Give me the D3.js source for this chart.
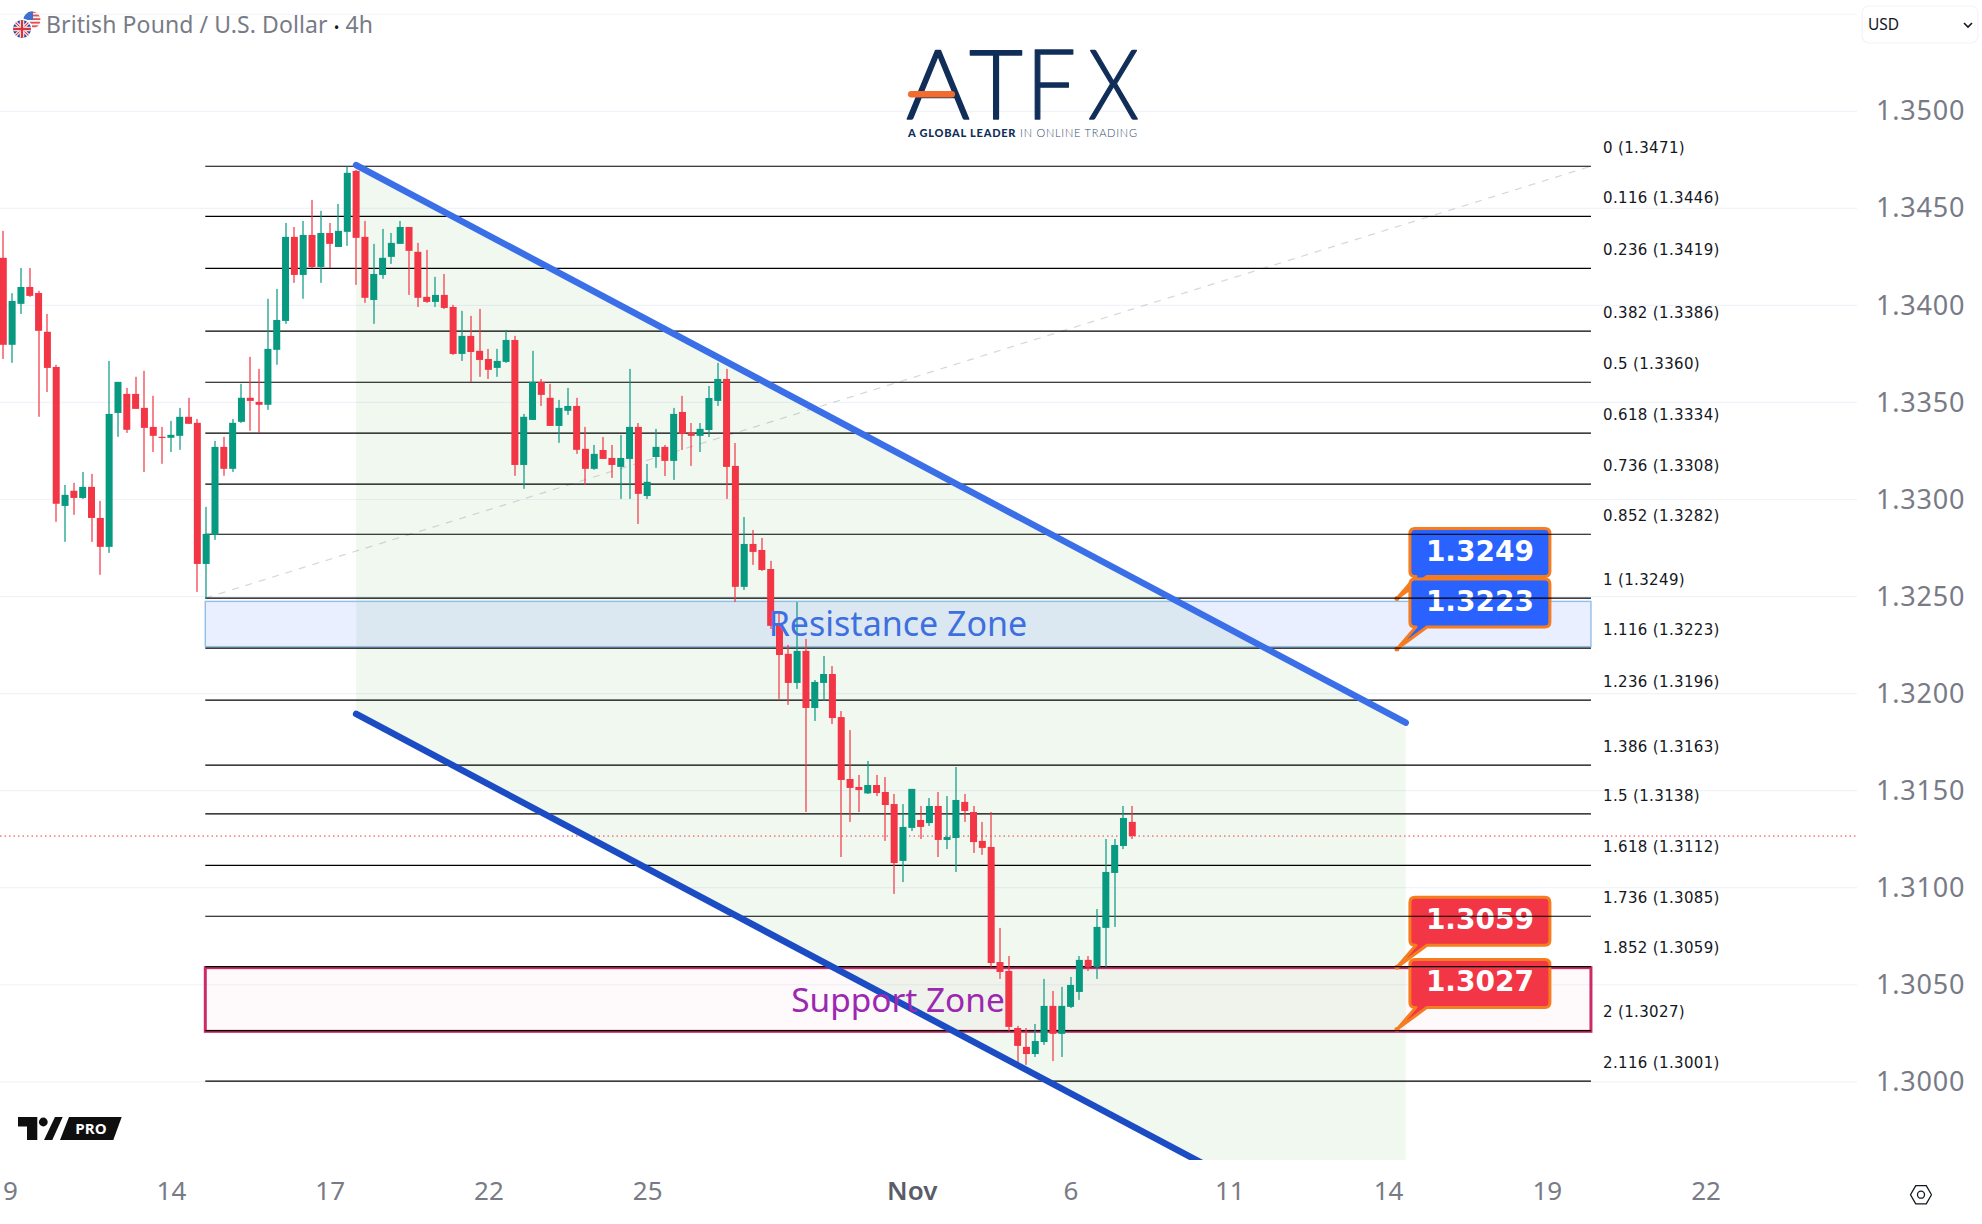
<!DOCTYPE html>
<html><head><meta charset="utf-8"><style>html,body{margin:0;padding:0;background:#fff;overflow:hidden}svg{display:block}</style>
<script src="https://cdn.jsdelivr.net/npm/d3@7/dist/d3.min.js"></script></head><body><svg id="c" width="1982" height="1224"></svg>
<script>
const opens=[1.34245,1.33797,1.34008,1.34095,1.34064,1.33864,1.33683,1.32967,1.33045,1.33008,1.33065,1.32905,1.32756,1.33446,1.33544,1.33544,1.33472,1.33374,1.33323,1.33318,1.33328,1.33426,1.33395,1.32668,1.32818,1.33271,1.33158,1.33400,1.33524,1.33503,1.33488,1.33771,1.33920,1.34353,1.34157,1.34363,1.34198,1.34373,1.34301,1.34379,1.34693,1.34353,1.34028,1.34157,1.34250,1.34317,1.34404,1.34276,1.34044,1.34018,1.34054,1.33992,1.33750,1.33843,1.33766,1.33724,1.33678,1.33709,1.33822,1.33178,1.33410,1.33606,1.33524,1.33379,1.33457,1.33482,1.33261,1.33158,1.33255,1.33214,1.33168,1.33209,1.33374,1.33018,1.33219,1.33271,1.33199,1.33451,1.33343,1.33328,1.33358,1.33508,1.33621,1.33173,1.32550,1.32771,1.32740,1.32642,1.32354,1.32205,1.32055,1.32220,1.31926,1.32055,1.32101,1.31879,1.31560,1.31519,1.31486,1.31529,1.31493,1.31431,1.31138,1.31308,1.31349,1.31333,1.31421,1.31246,1.31256,1.31442,1.31390,1.31241,1.31210,1.30617,1.30571,1.30277,1.30180,1.30143,1.30205,1.30391,1.30247,1.30386,1.30463,1.30628,1.30592,1.30793,1.31076,1.31215,1.31339];
const highs=[1.34384,1.34063,1.34193,1.34193,1.34075,1.33956,1.33694,1.33075,1.33086,1.33142,1.33132,1.32993,1.33714,1.33606,1.33575,1.33632,1.33663,1.33534,1.33374,1.33405,1.33472,1.33524,1.33415,1.32962,1.33302,1.33323,1.33415,1.33596,1.33735,1.33673,1.34034,1.34085,1.34425,1.34404,1.34435,1.34543,1.34487,1.34425,1.34523,1.34715,1.34698,1.34435,1.34317,1.34394,1.34373,1.34435,1.34404,1.34322,1.34286,1.34147,1.34162,1.34003,1.33972,1.33946,1.33982,1.33776,1.33776,1.33874,1.33843,1.33441,1.33766,1.33621,1.33596,1.33513,1.33575,1.33524,1.33374,1.33281,1.33322,1.33281,1.33333,1.33673,1.33394,1.33183,1.33364,1.33281,1.33472,1.33534,1.33394,1.33394,1.33585,1.33704,1.33673,1.33291,1.32910,1.32843,1.32802,1.32684,1.32411,1.32251,1.32472,1.32282,1.32070,1.32194,1.32142,1.31910,1.31812,1.31581,1.31653,1.31581,1.31570,1.31483,1.31431,1.31509,1.31421,1.31462,1.31493,1.31472,1.31622,1.31483,1.31421,1.31339,1.31390,1.30793,1.30648,1.30288,1.30277,1.30298,1.30530,1.30468,1.30489,1.30540,1.30648,1.30648,1.30890,1.31251,1.31251,1.31421,1.31421];
const lows=[1.33724,1.33704,1.33956,1.34044,1.33426,1.33554,1.32885,1.32782,1.32921,1.33003,1.32782,1.32612,1.32725,1.33323,1.33343,1.33467,1.33142,1.33245,1.33184,1.33245,1.33256,1.33390,1.32524,1.32488,1.32792,1.33122,1.33142,1.33395,1.33354,1.33343,1.33462,1.33694,1.33905,1.34116,1.34034,1.34193,1.34116,1.34193,1.34301,1.34307,1.34106,1.34013,1.33905,1.34137,1.34214,1.34317,1.34054,1.33992,1.34013,1.33992,1.33982,1.33745,1.33714,1.33606,1.33632,1.33621,1.33632,1.33704,1.33122,1.33055,1.33410,1.33482,1.33379,1.33292,1.33436,1.33235,1.33075,1.33153,1.33209,1.33111,1.33003,1.33003,1.32874,1.33003,1.33163,1.33121,1.33101,1.33255,1.33173,1.33245,1.33322,1.33482,1.33003,1.32472,1.32534,1.32663,1.32632,1.32333,1.31973,1.31942,1.32024,1.31390,1.31859,1.31962,1.31843,1.31158,1.31339,1.31390,1.31483,1.31472,1.31241,1.30968,1.31029,1.31292,1.31251,1.31318,1.31158,1.31199,1.31081,1.31339,1.31179,1.31169,1.30592,1.30530,1.30262,1.30087,1.30087,1.30128,1.30190,1.30107,1.30128,1.30380,1.30422,1.30571,1.30530,1.30592,1.30798,1.31199,1.31251];
const closes=[1.33797,1.34023,1.34095,1.34049,1.33869,1.33678,1.32978,1.33024,1.33008,1.33065,1.32905,1.32756,1.33441,1.33606,1.33359,1.33467,1.33369,1.33328,1.33318,1.33333,1.33426,1.33390,1.32668,1.32823,1.33271,1.33158,1.33395,1.33524,1.33508,1.33488,1.33776,1.33925,1.34353,1.34157,1.34363,1.34198,1.34373,1.34317,1.34384,1.34683,1.34348,1.34039,1.34162,1.34245,1.34322,1.34404,1.34281,1.34039,1.34018,1.34054,1.33987,1.33750,1.33843,1.33760,1.33719,1.33668,1.33714,1.33822,1.33178,1.33426,1.33606,1.33539,1.33379,1.33472,1.33482,1.33256,1.33158,1.33235,1.33209,1.33178,1.33214,1.33374,1.33029,1.33091,1.33271,1.33199,1.33441,1.33338,1.33328,1.33364,1.33523,1.33621,1.33168,1.32550,1.32771,1.32730,1.32637,1.32349,1.32199,1.32055,1.32220,1.31926,1.32060,1.32101,1.31874,1.31555,1.31514,1.31503,1.31529,1.31488,1.31426,1.31127,1.31313,1.31509,1.31313,1.31421,1.31246,1.31261,1.31452,1.31395,1.31235,1.31205,1.30612,1.30566,1.30283,1.30185,1.30143,1.30210,1.30391,1.30247,1.30391,1.30499,1.30628,1.30592,1.30798,1.31081,1.31220,1.31359,1.31266];

const fibLevels=["0","0.116","0.236","0.382","0.5","0.618","0.736","0.852","1","1.116","1.236","1.386","1.5","1.618","1.736","1.852","2","2.116"];
const fibLabelPrices=["1.3471","1.3446","1.3419","1.3386","1.3360","1.3334","1.3308","1.3282","1.3249","1.3223","1.3196","1.3163","1.3138","1.3112","1.3085","1.3059","1.3027","1.3001"];
const fibPrices=[1.34717,1.34459,1.34191,1.33867,1.33604,1.33342,1.33079,1.32821,1.32492,1.32234,1.31966,1.31631,1.31380,1.31115,1.30853,1.30593,1.30264,1.30003];
const fibStartIndex=22.9, fibEndIndex=180;
const priceTicks=[1.30,1.305,1.31,1.315,1.32,1.325,1.33,1.335,1.34,1.345,1.35];
const gridPrices=[...priceTicks,1.355];
const dateTickIndex=[0.75,19,37,55,73,103,121,139,157,175,193];
const dateTickLabels=["9","14","17","22","25","Nov","6","11","14","19","22"];
const upperChannel=[[40,1.34723],[159,1.31850]];
const lowerChannel=[[40,1.31895],[159,1.29024]];
const resistanceZone=[1.32475,1.32242];
const supportZone=[1.30588,1.30260];
const calloutPrices=[1.3249,1.3223,1.3059,1.3027];
const calloutLabels=["1.3249","1.3223","1.3059","1.3027"];
const calloutColors=["#2962ff","#2962ff","#f23645","#f23645"];
const calloutIndex=158;
const lastPrice=closes[closes.length-1];

const svg=d3.select("#c");
const x=d3.scaleLinear().domain([0,128]).range([3.3,1132.3]);
const y=d3.scaleLinear().domain([1.30,1.35]).range([1081.8,111.3]);
const plotW=1857, plotH=1160;
svg.append("defs").append("clipPath").attr("id","plot").append("rect").attr("width",plotW).attr("height",plotH);
const plot=svg.append("g").attr("clip-path","url(#plot)");

plot.append("g").selectAll("line").data(gridPrices).join("line")
 .attr("x1",0).attr("x2",plotW).attr("y1",d=>y(d)).attr("y2",d=>y(d)).attr("stroke","#f0f3fa").attr("stroke-width",1.2);

const chanPts=[...upperChannel,...lowerChannel.slice().reverse()];
plot.append("path").attr("d",d3.line().x(d=>x(d[0])).y(d=>y(d[1]))(chanPts)+"Z").attr("fill","#4caf50").attr("fill-opacity",0.085);

const zx0=x(fibStartIndex), zx1=x(fibEndIndex);
plot.append("rect").attr("x",zx0).attr("width",zx1-zx0).attr("y",y(resistanceZone[0])).attr("height",y(resistanceZone[1])-y(resistanceZone[0]))
 .attr("fill","#2962ff").attr("fill-opacity",0.1).attr("stroke","#90bfe8").attr("stroke-width",1.4);
plot.append("rect").attr("x",zx0).attr("width",zx1-zx0).attr("y",y(supportZone[0])).attr("height",y(supportZone[1])-y(supportZone[0]))
 .attr("fill","#e91e63").attr("fill-opacity",0.025).attr("stroke","#cb2a66").attr("stroke-width",3);

const callouts=plot.append("g").selectAll("g").data(calloutPrices).join("g");
callouts.append("path").attr("d",(d,i)=>{
  const tx=x(calloutIndex), ty=y(d), l=tx+13, r=tx+153, t=ty-70, b=ty-22, rd=5;
  return `M${l+rd},${t}H${r-rd}Q${r},${t} ${r},${t+rd}V${b-rd}Q${r},${b} ${r-rd},${b}H${tx+30}L${tx},${ty}L${l+6},${b}H${l+rd}Q${l},${b} ${l},${b-rd}V${t+rd}Q${l},${t} ${l+rd},${t}Z`;
}).attr("fill",(d,i)=>calloutColors[i]).attr("stroke","#f57c1f").attr("stroke-width",3).attr("stroke-linejoin","round");
callouts.append("circle").attr("cx",x(calloutIndex)).attr("cy",d=>y(d)).attr("r",2.5).attr("fill","#f57c1f");
callouts.append("text").attr("x",x(calloutIndex)+83).attr("y",d=>y(d)-48).attr("dy","0.36em").attr("text-anchor","middle")
 .attr("font-family","DejaVu Sans").attr("font-weight","bold").attr("font-size",28).attr("fill","#fff").text((d,i)=>calloutLabels[i]);

plot.append("line").attr("x1",x(fibStartIndex)).attr("x2",x(fibEndIndex)).attr("y1",y(fibPrices[8])).attr("y2",y(fibPrices[0]))
 .attr("stroke","#787b86").attr("stroke-opacity",0.3).attr("stroke-width",1.2).attr("stroke-dasharray","7 7");
plot.append("g").selectAll("line").data(fibPrices).join("line").attr("x1",zx0).attr("x2",zx1)
 .attr("y1",d=>y(d)).attr("y2",d=>y(d)).attr("stroke","#000").attr("stroke-width",1.2);
svg.append("g").selectAll("text").data(fibLevels).join("text").attr("x",1603).attr("y",(d,i)=>y(fibPrices[i])-18.6).attr("dy","0.36em")
 .attr("font-family","DejaVu Sans").attr("font-size",15).attr("letter-spacing",0.35).attr("fill","#131722").text((d,i)=>`${d} (${fibLabelPrices[i]})`);

plot.append("line").attr("x1",0).attr("x2",plotW).attr("y1",y(lastPrice)).attr("y2",y(lastPrice)).attr("stroke","#f23645").attr("stroke-width",1).attr("stroke-dasharray","1.5 3");

const cand=plot.append("g").selectAll("g").data(opens).join("g").attr("fill",(d,i)=>closes[i]>=d?"#089981":"#f23645");
cand.append("rect").attr("x",(d,i)=>Math.round(x(i))-0.6).attr("width",1.2).attr("y",(d,i)=>y(highs[i])).attr("height",(d,i)=>y(lows[i])-y(highs[i]));
cand.append("rect").attr("x",(d,i)=>x(i)-3.5).attr("width",7).attr("y",(d,i)=>y(Math.max(d,closes[i]))).attr("height",(d,i)=>Math.max(1.2,Math.abs(y(d)-y(closes[i]))));

const tl=d3.line().x(d=>x(d[0])).y(d=>y(d[1]));
plot.append("path").attr("d",tl(upperChannel)).attr("stroke","#3a6fe8").attr("stroke-width",6.5).attr("stroke-linecap","round").attr("fill","none");
plot.append("path").attr("d",tl(lowerChannel)).attr("stroke","#1c4cc4").attr("stroke-width",6.5).attr("stroke-linecap","round").attr("fill","none");

plot.append("text").attr("x",898).attr("y",y(resistanceZone[1])-23).attr("dy","0.36em").attr("text-anchor","middle").attr("font-family","Noto Sans").attr("font-size",34).attr("fill","#3d6fe0").text("Resistance Zone");
plot.append("text").attr("x",898).attr("y",1000).attr("dy","0.36em").attr("text-anchor","middle").attr("font-family","Noto Sans").attr("font-size",33.4).attr("fill","#9c27b0").text("Support Zone");

const ya=svg.append("g").attr("transform","translate(1876,0)").call(d3.axisRight(y).tickValues(priceTicks).tickSize(0).tickPadding(0).tickFormat(d3.format(".4f")));
ya.select(".domain").remove();
ya.selectAll("text").attr("font-family","Noto Sans").attr("font-size",27).attr("letter-spacing",0.8).attr("fill","#787b86");
const xa=svg.append("g").attr("transform","translate(0,1182)").call(d3.axisBottom(x).tickValues(dateTickIndex).tickSize(0).tickPadding(0).tickFormat((d,i)=>dateTickLabels[i]));
xa.select(".domain").remove();
xa.selectAll("text").attr("font-family","Noto Sans").attr("font-size",26).attr("fill",(d,i)=>dateTickLabels[i]==="Nov"?"#5a5d68":"#787b86").attr("font-weight",(d,i)=>dateTickLabels[i]==="Nov"?600:400);

const fl=svg.append("g");
fl.append("clipPath").attr("id","us").append("circle").attr("cx",32).attr("cy",20).attr("r",8.5);
fl.append("clipPath").attr("id","uk").append("circle").attr("cx",22).attr("cy",29).attr("r",9);
const us=fl.append("g").attr("clip-path","url(#us)");
us.append("rect").attr("x",23).attr("y",11).attr("width",18).attr("height",18).attr("fill","#f4f4f4");
d3.range(0,5).forEach(k=>us.append("rect").attr("x",23).attr("y",11+k*3.6).attr("width",18).attr("height",1.8).attr("fill","#e2504f"));
us.append("rect").attr("x",23).attr("y",11).attr("width",10).attr("height",9).attr("fill","#3f6fd0");
fl.append("circle").attr("cx",22).attr("cy",29).attr("r",10.5).attr("fill","#fff");
const uk=fl.append("g").attr("clip-path","url(#uk)");
uk.append("rect").attr("x",12).attr("y",19).attr("width",20).attr("height",20).attr("fill","#2b4a9b");
uk.append("path").attr("d","M13,20L31,38M31,20L13,38").attr("stroke","#fff").attr("stroke-width",3.2);
uk.append("path").attr("d","M13,20L31,38M31,20L13,38").attr("stroke","#d8333f").attr("stroke-width",1.1);
uk.append("path").attr("d","M22,19V39M12,29H32").attr("stroke","#fff").attr("stroke-width",4.5);
uk.append("path").attr("d","M22,19V39M12,29H32").attr("stroke","#d8333f").attr("stroke-width",2.4);
const ttl=svg.append("text").attr("x",46).attr("y",33).attr("font-family","Noto Sans").attr("font-size",23).attr("fill","#787b86").attr("textLength",327);
ttl.append("tspan").text("British Pound / U.S. Dollar ");
ttl.append("tspan").attr("fill","#131722").attr("font-size",15).text("•");
ttl.append("tspan").text(" 4h");

svg.append("rect").attr("x",1862).attr("y",6).attr("width",116).attr("height",37).attr("rx",7).attr("fill","#fff").attr("stroke","#f0f3fa").attr("stroke-width",1.2);
svg.append("text").attr("x",1868).attr("y",30).attr("font-family","Noto Sans").attr("font-size",15.5).attr("fill","#131722").text("USD");
svg.append("path").attr("d","M1964,23l4,4l4,-4").attr("stroke","#131722").attr("stroke-width",1.6).attr("fill","none");

const navy="#102e58";
const logo=svg.append("g").attr("font-family","Lato").attr("font-weight",300).attr("font-size",97).attr("fill",navy).attr("stroke",navy).attr("stroke-width",1.4).attr("stroke-linejoin","round");
[["A",906,64],["T",969,54],["F",1026,50],["X",1088,51]].forEach(([t,xx,w])=>logo.append("text").attr("x",xx).attr("y",119).attr("textLength",w).attr("lengthAdjust","spacingAndGlyphs").text(t));
svg.append("rect").attr("x",908).attr("y",91).attr("width",47).attr("height",6.5).attr("rx",3.2).attr("fill","#f26b2f");
const tag=svg.append("text").attr("x",908).attr("y",137).attr("font-family","Lato").attr("font-size",11).attr("fill",navy).attr("textLength",229);
tag.append("tspan").attr("font-weight",900).text("A GLOBAL LEADER");
tag.append("tspan").attr("font-weight",300).attr("fill","#33486b").text(" IN ONLINE TRADING");

const tv=svg.append("g").attr("fill","#0f0f0f");
tv.append("path").attr("d","M18,1117H37.3V1140H27V1126.4H18Z");
tv.append("circle").attr("cx",43.3).attr("cy",1122).attr("r",4.4);
tv.append("path").attr("d","M55,1117H62.7L52.3,1140H44Z");
tv.append("path").attr("d","M69,1117H121.7L113.3,1140H60Z");
svg.append("text").attr("x",91).attr("y",1134).attr("text-anchor","middle").attr("font-family","Open Sans").attr("font-weight",700).attr("font-size",15).attr("fill","#fff").text("PRO");

const cx=1921,cy=1194.7;
svg.append("path").attr("d",d3.line()(d3.range(7).map(k=>[cx+10.5*Math.cos(k*Math.PI/3),cy+10.5*Math.sin(k*Math.PI/3)]))).attr("fill","none").attr("stroke","#131722").attr("stroke-width",1.3);
svg.append("circle").attr("cx",cx).attr("cy",cy).attr("r",3.5).attr("fill","none").attr("stroke","#131722").attr("stroke-width",1.3);
</script></body></html>
